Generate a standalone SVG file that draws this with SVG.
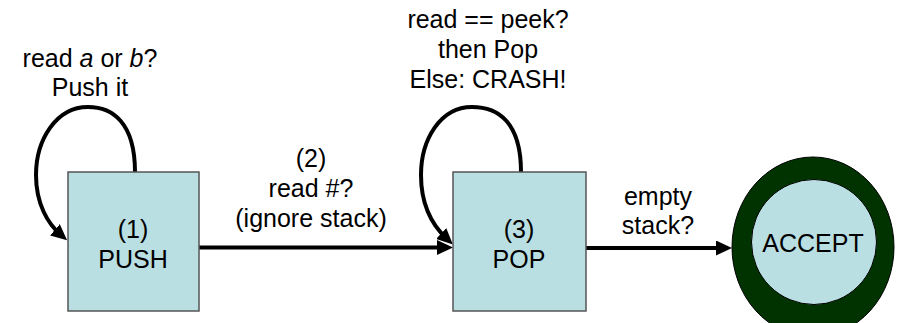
<svg xmlns="http://www.w3.org/2000/svg" width="899" height="323" viewBox="0 0 899 323">
  <style>
    .t { font-family: "Liberation Sans", Arial, sans-serif; font-size: 25px; fill: #000; text-anchor: middle; }
    .box { fill: #b9dfe2; stroke: #555; stroke-width: 1.5; }
    .edge { fill: none; stroke: #000; stroke-width: 4; }
  </style>
  <defs>
    <marker id="ah" markerUnits="userSpaceOnUse" markerWidth="16" markerHeight="15" refX="8" refY="7.5" orient="auto">
      <path d="M0,0 L16,7.5 L0,15 z" fill="#000"/>
    </marker>
  </defs>
  <rect width="899" height="323" fill="#fff"/>

  <g id="connectors">
    <path class="edge" d="M135,172 C135,122 112,107 88,107 C56,107 36,140 36,175 C36,204 48,224 61,235" marker-end="url(#ah)"/>
    <path class="edge" d="M521,172 C521,122 498,107 472,107 C440,107 421,140 421,175 C421,205 433,226 447,239" marker-end="url(#ah)"/>
    <path class="edge" d="M199,247.5 L445,247.5" marker-end="url(#ah)"/>
    <path class="edge" d="M586,248 L724,248" marker-end="url(#ah)"/>
    <text class="t" x="90" y="67">read <tspan font-style="italic">a</tspan> or <tspan font-style="italic">b</tspan>?</text>
    <text class="t" x="90" y="96">Push it</text>
    <text class="t" x="488" y="28">read == peek?</text>
    <text class="t" x="488" y="58">then Pop</text>
    <text class="t" x="488" y="88">Else: CRASH!</text>
    <text class="t" x="311" y="167">(2)</text>
    <text class="t" x="311" y="197">read #?</text>
    <text class="t" x="311" y="227">(ignore stack)</text>
    <text class="t" x="658" y="205">empty</text>
    <text class="t" x="658" y="234">stack?</text>
  </g>

  <g id="push">
    <rect class="box" x="68" y="172" width="131" height="139"/>
    <text class="t" x="133" y="238">(1)</text>
    <text class="t" x="133" y="268">PUSH</text>
  </g>

  <g id="pop">
    <rect class="box" x="453" y="172" width="133" height="139"/>
    <text class="t" x="519" y="238">(3)</text>
    <text class="t" x="519" y="268">POP</text>
  </g>

  <g id="accept">
    <ellipse cx="813" cy="247" rx="81" ry="90" fill="#013301" stroke="#000" stroke-width="1"/>
    <circle cx="814" cy="242" r="62.5" fill="#b9dfe2" stroke="#000" stroke-width="1"/>
    <text class="t" x="813" y="252">ACCEPT</text>
  </g>
</svg>
